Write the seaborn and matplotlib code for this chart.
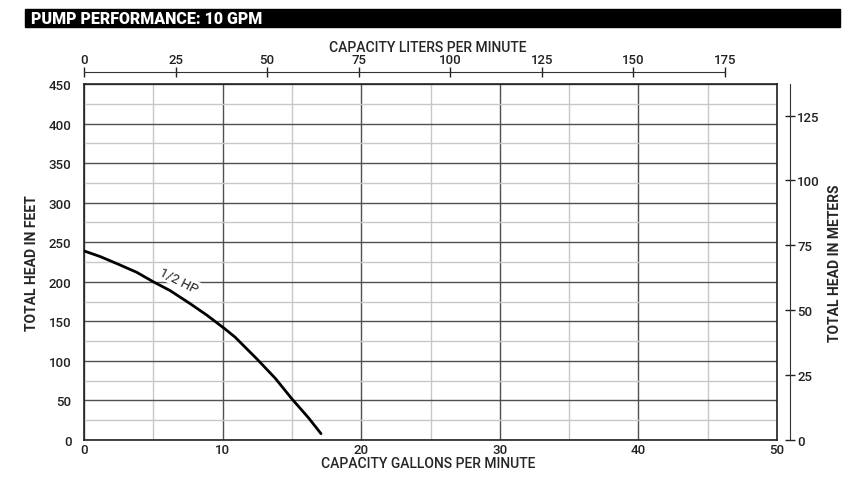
import numpy as np
import pandas as pd
import seaborn as sns
import matplotlib.pyplot as plt
from matplotlib.patches import Rectangle
from matplotlib.ticker import MultipleLocator

# curve (gpm vs head in feet)
gpm = [0, 1.15, 2.5, 3.8, 5, 6.2, 7.6, 8.85, 10.2, 10.9, 12.5, 13.8, 15, 16.2, 17.1]
head_ft = [239, 232, 222, 212, 200, 189, 173, 158, 140, 130, 102, 78, 52, 28, 8]
curve_label = "1/2 HP"

gpm_ticks = [0, 10, 20, 30, 40, 50]
ft_ticks = [0, 50, 100, 150, 200, 250, 300, 350, 400, 450]
lpm_ticks = [0, 25, 50, 75, 100, 125, 150, 175]
m_ticks = [0, 25, 50, 75, 100, 125]

L_PER_GAL = 3.785
FT_PER_M = 3.281

sns.set_style("white")
plt.rcParams['font.family'] = ['Roboto', 'DejaVu Sans']

fig = plt.figure(figsize=(8.5, 4.89), dpi=100)
ax = fig.add_axes([84 / 850, 48 / 489, 693 / 850, 356 / 489])

df = pd.DataFrame({"gpm": gpm, "head": head_ft})
sns.lineplot(data=df, x="gpm", y="head", ax=ax, color="black", lw=2.0, zorder=5)

ax.set_xlim(0, 50)
ax.set_ylim(0, 450)
ax.xaxis.set_minor_locator(MultipleLocator(5))
ax.yaxis.set_minor_locator(MultipleLocator(25))
ax.set_xticks(gpm_ticks)
ax.set_yticks(ft_ticks)
ax.grid(which="major", color="#505050", lw=1.0)
ax.grid(which="minor", color="#c8c8c8", lw=1.0)
ax.set_axisbelow(True)
for s in ax.spines.values():
    s.set_color("#222222")
    s.set_linewidth(1.2)
ax.tick_params(which="both", length=0, labelsize=9.5, colors="#222222")
ax.tick_params(axis="y", pad=9)
ax.tick_params(axis="x", pad=2)
ax.set_xlabel("")
ax.set_ylabel("")
for lab in ax.get_xticklabels() + ax.get_yticklabels():
    lab.set_fontweight("medium")

ax.text(6.85, 202, curve_label, rotation=-27, ha="center", va="center",
        fontsize=9.5, color="#222222", zorder=6,
        bbox=dict(facecolor="white", edgecolor="none", pad=0.8))

# top axis in liters per minute
top = ax.secondary_xaxis("top", functions=(lambda g: g * L_PER_GAL, lambda l: l / L_PER_GAL))
top.set_xticks(lpm_ticks)
top.spines["top"].set_position(("outward", 8.3))
top.spines["top"].set_bounds(0, 175)
top.spines["top"].set_color("#333333")
top.tick_params(direction="inout", length=6.5, width=1, labelsize=9.5, pad=1.5, colors="#222222")
for lab in top.get_xticklabels():
    lab.set_fontweight("medium")

# right axis in meters
right = ax.secondary_yaxis("right", functions=(lambda f: f / FT_PER_M, lambda m: m * FT_PER_M))
right.set_yticks(m_ticks)
right.spines["right"].set_position(("outward", 9.4))
right.spines["right"].set_color("#333333")
right.tick_params(direction="inout", length=7, width=1, labelsize=9.5, pad=1.5, colors="#222222")
for lab in right.get_yticklabels():
    lab.set_fontweight("medium")

# title bar
fig.patches.append(Rectangle((25 / 850, 1 - 28 / 489), 815 / 850, 18 / 489,
                             transform=fig.transFigure, color="black"))
fig.text(31 / 850, 1 - 19.5 / 489, "PUMP PERFORMANCE: 10 GPM", color="white",
         fontsize=11.5, fontweight="heavy", va="center", ha="left")

fig.text(32 / 850, 1 - 263 / 489, "TOTAL HEAD IN FEET", rotation=90, fontsize=10,
         fontweight="bold", ha="center", va="center")
fig.text(835 / 850, 1 - 263 / 489, "TOTAL HEAD IN METERS", rotation=90, fontsize=10,
         fontweight="bold", ha="center", va="center")
fig.text(428 / 850, 1 - 464 / 489, "CAPACITY GALLONS PER MINUTE", fontsize=10,
         fontweight="medium", ha="center", va="center")
fig.text(428 / 850, 1 - 48 / 489, "CAPACITY LITERS PER MINUTE", fontsize=10,
         fontweight="medium", ha="center", va="center")

fig.savefig("out.png", dpi=100)
